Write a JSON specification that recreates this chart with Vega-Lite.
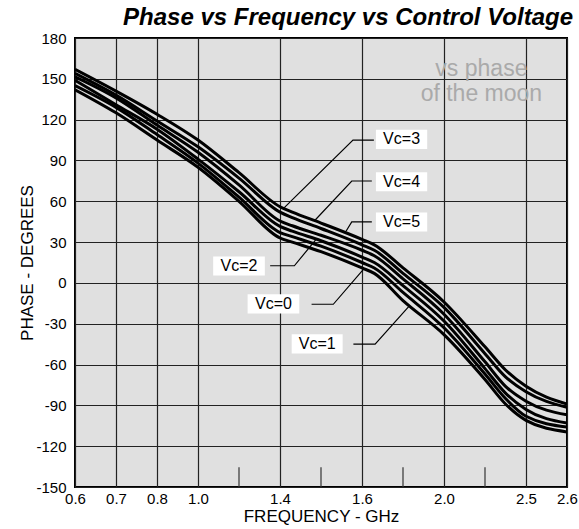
{
  "$schema": "https://vega.github.io/schema/vega-lite/v6.json",
  "width": 492,
  "height": 449,
  "autosize": "none",
  "padding": {"left": 75, "top": 38, "right": 12, "bottom": 42},
  "background": "white",
  "title": {"text": "Phase vs Frequency vs Control Voltage", "anchor": "end", "frame": "group", "font": "Liberation Sans", "fontSize": 24, "fontStyle": "italic", "fontWeight": "bold", "color": "#000", "dx": 6, "offset": 1},
  "datasets": {
    "curves": [
      {"vc": "3", "f": 0.6, "p": 157}, {"vc": "3", "f": 0.7, "p": 141}, {"vc": "3", "f": 0.8, "p": 124}, {"vc": "3", "f": 1.0, "p": 105}, {"vc": "3", "f": 1.2, "p": 81}, {"vc": "3", "f": 1.4, "p": 56}, {"vc": "3", "f": 1.43, "p": 52}, {"vc": "3", "f": 1.5, "p": 44}, {"vc": "3", "f": 1.6, "p": 32}, {"vc": "3", "f": 1.66, "p": 28}, {"vc": "3", "f": 1.8, "p": 11}, {"vc": "3", "f": 2.0, "p": -14}, {"vc": "3", "f": 2.25, "p": -47}, {"vc": "3", "f": 2.375, "p": -64}, {"vc": "3", "f": 2.5, "p": -76}, {"vc": "3", "f": 2.6, "p": -89},
      {"vc": "4", "f": 0.6, "p": 154}, {"vc": "4", "f": 0.7, "p": 138}, {"vc": "4", "f": 0.8, "p": 119}, {"vc": "4", "f": 1.0, "p": 100}, {"vc": "4", "f": 1.2, "p": 77}, {"vc": "4", "f": 1.4, "p": 52}, {"vc": "4", "f": 1.43, "p": 48}, {"vc": "4", "f": 1.5, "p": 40}, {"vc": "4", "f": 1.6, "p": 28}, {"vc": "4", "f": 1.66, "p": 24}, {"vc": "4", "f": 1.8, "p": 7}, {"vc": "4", "f": 2.0, "p": -18}, {"vc": "4", "f": 2.25, "p": -52}, {"vc": "4", "f": 2.375, "p": -69}, {"vc": "4", "f": 2.5, "p": -80}, {"vc": "4", "f": 2.6, "p": -91.5},
      {"vc": "5", "f": 0.6, "p": 151.5}, {"vc": "5", "f": 0.7, "p": 136}, {"vc": "5", "f": 0.8, "p": 116}, {"vc": "5", "f": 1.0, "p": 96}, {"vc": "5", "f": 1.2, "p": 72}, {"vc": "5", "f": 1.4, "p": 45.5}, {"vc": "5", "f": 1.43, "p": 42}, {"vc": "5", "f": 1.5, "p": 35}, {"vc": "5", "f": 1.6, "p": 24}, {"vc": "5", "f": 1.66, "p": 20}, {"vc": "5", "f": 1.8, "p": 3}, {"vc": "5", "f": 2.0, "p": -23}, {"vc": "5", "f": 2.25, "p": -58}, {"vc": "5", "f": 2.375, "p": -76}, {"vc": "5", "f": 2.5, "p": -87}, {"vc": "5", "f": 2.6, "p": -97},
      {"vc": "2", "f": 0.6, "p": 149}, {"vc": "2", "f": 0.7, "p": 131}, {"vc": "2", "f": 0.8, "p": 113}, {"vc": "2", "f": 1.0, "p": 91}, {"vc": "2", "f": 1.2, "p": 67}, {"vc": "2", "f": 1.4, "p": 41.5}, {"vc": "2", "f": 1.43, "p": 38}, {"vc": "2", "f": 1.5, "p": 31}, {"vc": "2", "f": 1.6, "p": 19}, {"vc": "2", "f": 1.66, "p": 15}, {"vc": "2", "f": 1.8, "p": -2}, {"vc": "2", "f": 2.0, "p": -28}, {"vc": "2", "f": 2.25, "p": -63}, {"vc": "2", "f": 2.375, "p": -81}, {"vc": "2", "f": 2.5, "p": -93}, {"vc": "2", "f": 2.6, "p": -103},
      {"vc": "0", "f": 0.6, "p": 145}, {"vc": "0", "f": 0.7, "p": 129}, {"vc": "0", "f": 0.8, "p": 109}, {"vc": "0", "f": 1.0, "p": 88}, {"vc": "0", "f": 1.2, "p": 63}, {"vc": "0", "f": 1.4, "p": 37}, {"vc": "0", "f": 1.43, "p": 34}, {"vc": "0", "f": 1.5, "p": 27}, {"vc": "0", "f": 1.6, "p": 15}, {"vc": "0", "f": 1.66, "p": 11}, {"vc": "0", "f": 1.8, "p": -7}, {"vc": "0", "f": 2.0, "p": -33}, {"vc": "0", "f": 2.25, "p": -67}, {"vc": "0", "f": 2.375, "p": -85}, {"vc": "0", "f": 2.5, "p": -98}, {"vc": "0", "f": 2.6, "p": -106},
      {"vc": "1", "f": 0.6, "p": 142}, {"vc": "1", "f": 0.7, "p": 125}, {"vc": "1", "f": 0.8, "p": 105}, {"vc": "1", "f": 1.0, "p": 85}, {"vc": "1", "f": 1.2, "p": 60}, {"vc": "1", "f": 1.4, "p": 33}, {"vc": "1", "f": 1.43, "p": 30}, {"vc": "1", "f": 1.5, "p": 23}, {"vc": "1", "f": 1.6, "p": 11}, {"vc": "1", "f": 1.66, "p": 7}, {"vc": "1", "f": 1.8, "p": -13}, {"vc": "1", "f": 2.0, "p": -38}, {"vc": "1", "f": 2.25, "p": -71}, {"vc": "1", "f": 2.375, "p": -89}, {"vc": "1", "f": 2.5, "p": -101}, {"vc": "1", "f": 2.6, "p": -109.5}
    ],
    "minor": [
      {"f": 1.2, "p": -150, "p2": -135.5}, {"f": 1.5, "p": -150, "p2": -135.5}, {"f": 1.8, "p": -150, "p2": -135.5}, {"f": 2.25, "p": -150, "p2": -135.5}
    ],
    "leaders": [
      {"vc": "3", "o": 1, "f": 1.658, "p": 105}, {"vc": "3", "o": 2, "f": 1.578, "p": 105}, {"vc": "3", "o": 3, "f": 1.408, "p": 54.6},
      {"vc": "4", "o": 1, "f": 1.648, "p": 74.9}, {"vc": "4", "o": 2, "f": 1.575, "p": 74.9}, {"vc": "4", "o": 3, "f": 1.483, "p": 45.3},
      {"vc": "5", "o": 1, "f": 1.648, "p": 44.8}, {"vc": "5", "o": 2, "f": 1.575, "p": 44.8}, {"vc": "5", "o": 3, "f": 1.561, "p": 38},
      {"vc": "2", "o": 1, "f": 1.352, "p": 12.6}, {"vc": "2", "o": 2, "f": 1.435, "p": 12.6}, {"vc": "2", "o": 3, "f": 1.488, "p": 32},
      {"vc": "0", "o": 1, "f": 1.477, "p": -15.7}, {"vc": "0", "o": 2, "f": 1.53, "p": -15.7}, {"vc": "0", "o": 3, "f": 1.61, "p": 10.5},
      {"vc": "1", "o": 1, "f": 1.579, "p": -45}, {"vc": "1", "o": 2, "f": 1.664, "p": -45}, {"vc": "1", "o": 3, "f": 1.83, "p": -17}
    ],
    "boxes": [
      {"label": "Vc=3", "f": 1.668, "f2": 1.918, "p": 112.5, "p2": 98.5, "fc": 1.793, "pc": 105.5},
      {"label": "Vc=4", "f": 1.668, "f2": 1.918, "p": 81.3, "p2": 67.3, "fc": 1.793, "pc": 74.3},
      {"label": "Vc=5", "f": 1.668, "f2": 1.918, "p": 51.7, "p2": 37.7, "fc": 1.793, "pc": 44.7},
      {"label": "Vc=2", "f": 1.074, "f2": 1.326, "p": 19.4, "p2": 5.4, "fc": 1.2, "pc": 12.4},
      {"label": "Vc=0", "f": 1.242, "f2": 1.447, "p": -8.4, "p2": -22.4, "fc": 1.368, "pc": -15.4},
      {"label": "Vc=1", "f": 1.4285, "f2": 1.5528, "p": -37.8, "p2": -51.8, "fc": 1.491, "pc": -44.8}
    ],
    "note": [
      {"t": "vs phase", "f": 2.228, "p": 157.3},
      {"t": "of the moon", "f": 2.228, "p": 139.2}
    ]
  },
  "config": {
    "view": {"fill": "#e0e0e0", "stroke": "#000", "strokeWidth": 2},
    "axis": {"labelFont": "Liberation Sans", "labelFontSize": 15, "labelColor": "#000", "titleFont": "Liberation Sans", "titleFontSize": 17, "titleFontWeight": "normal", "titleColor": "#000", "ticks": false, "domain": false, "grid": true, "gridColor": "#222", "gridWidth": 1.2, "gridOpacity": 1, "labelFlush": false, "labelOverlap": false},
    "axisX": {"labelPadding": 4, "titlePadding": 2},
    "axisY": {"labelPadding": 9, "titleX": -48, "titleBaseline": "middle"}
  },
  "layer": [
    {
      "data": {"name": "curves"},
      "mark": {"type": "line", "color": "#000", "strokeWidth": 3, "interpolate": "monotone", "clip": true},
      "encoding": {
        "x": {"field": "f", "type": "quantitative", "title": "FREQUENCY - GHz",
              "scale": {"type": "linear", "domain": [0.6, 0.7, 0.8, 1.0, 1.4, 1.6, 2.0, 2.5, 2.6], "range": [0, 41, 82, 123, 205, 287, 369, 451, 492], "nice": false, "zero": false},
              "axis": {"values": [0.6, 0.7, 0.8, 1.0, 1.4, 1.6, 2.0, 2.5, 2.6], "format": ".1f"}},
        "y": {"field": "p", "type": "quantitative", "title": "PHASE - DEGREES",
              "scale": {"domain": [-150, 180], "nice": false, "zero": false},
              "axis": {"values": [-150, -120, -90, -60, -30, 0, 30, 60, 90, 120, 150, 180], "labelExpr": "'' + datum.value"}},
        "detail": {"field": "vc"}
      }
    },
    {
      "data": {"name": "minor"},
      "mark": {"type": "rule", "color": "#333", "strokeWidth": 1.2},
      "encoding": {
        "x": {"field": "f", "type": "quantitative", "title": "FREQUENCY - GHz"},
        "y": {"field": "p", "type": "quantitative", "title": "PHASE - DEGREES"},
        "y2": {"field": "p2"}
      }
    },
    {
      "data": {"name": "leaders"},
      "mark": {"type": "line", "color": "#000", "strokeWidth": 1.2},
      "encoding": {
        "x": {"field": "f", "type": "quantitative", "title": "FREQUENCY - GHz"},
        "y": {"field": "p", "type": "quantitative", "title": "PHASE - DEGREES"},
        "detail": {"field": "vc"},
        "order": {"field": "o"}
      }
    },
    {
      "data": {"name": "boxes"},
      "mark": {"type": "rect", "fill": "#fff"},
      "encoding": {
        "x": {"field": "f", "type": "quantitative", "title": "FREQUENCY - GHz"},
        "x2": {"field": "f2"},
        "y": {"field": "p", "type": "quantitative", "title": "PHASE - DEGREES"},
        "y2": {"field": "p2"}
      }
    },
    {
      "data": {"name": "boxes"},
      "mark": {"type": "text", "font": "Liberation Sans", "fontSize": 16, "color": "#000", "align": "center", "baseline": "middle"},
      "encoding": {
        "x": {"field": "fc", "type": "quantitative", "title": "FREQUENCY - GHz"},
        "y": {"field": "pc", "type": "quantitative", "title": "PHASE - DEGREES"},
        "text": {"field": "label"}
      }
    },
    {
      "data": {"name": "note"},
      "mark": {"type": "text", "font": "Liberation Sans", "fontSize": 23, "color": "#aaaaaa", "align": "center", "baseline": "middle"},
      "encoding": {
        "x": {"field": "f", "type": "quantitative", "title": "FREQUENCY - GHz"},
        "y": {"field": "p", "type": "quantitative", "title": "PHASE - DEGREES"},
        "text": {"field": "t"}
      }
    }
  ]
}
